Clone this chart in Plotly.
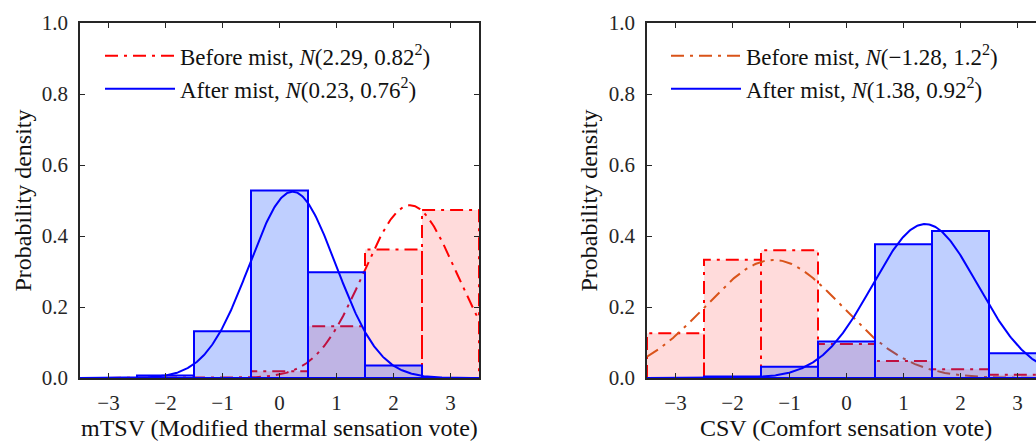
import numpy as np
import plotly.graph_objects as go

# ---------------- data ----------------
bin_centers = [-3, -2, -1, 0, 1, 2, 3]
x_ticks = [-3, -2, -1, 0, 1, 2, 3]
y_ticks = [0.0, 0.2, 0.4, 0.6, 0.8, 1.0]
y_ticktext = ["0.0", "0.2", "0.4", "0.6", "0.8", "1.0"]

# mTSV panel
mtsv_before = [0.0, 0.0, 0.0, 0.019, 0.146, 0.362, 0.473]
mtsv_after = [0.0, 0.007, 0.132, 0.528, 0.298, 0.035, 0.0]
mtsv_before_fit = [2.29, 0.82]   # mean, std
mtsv_after_fit = [0.23, 0.76]

# CSV panel
csv_before = [0.126, 0.333, 0.360, 0.096, 0.048, 0.025, 0.009]
csv_after = [0.0, 0.004, 0.032, 0.103, 0.377, 0.414, 0.070]
csv_before_fit = [-1.28, 1.2]
csv_after_fit = [1.38, 0.92]

labels_mtsv = ["Before mist, <i>N</i>(2.29, 0.82<sup>2</sup>)",
               "After mist, <i>N</i>(0.23, 0.76<sup>2</sup>)"]
labels_csv = ["Before mist, <i>N</i>(\u22121.28, 1.2<sup>2</sup>)",
              "After mist, <i>N</i>(1.38, 0.92<sup>2</sup>)"]

x_titles = ["mTSV (Modified thermal sensation vote)", "CSV (Comfort sensation vote)"]
y_title = "Probability density"

# ---------------- helpers ----------------
FONT = "Liberation Serif"
AX = "#262626"
BIN_W = 1.0


def hist_path(centers, heights):
    xs, ys = [], []
    for c, h in zip(centers, heights):
        l, r = c - BIN_W / 2, c + BIN_W / 2
        xs += [l, l, r, r, l, None]
        ys += [0, h, h, 0, 0, None]
    return xs, ys


def normal_curve(fit, lo=-3.5, hi=3.5, n=400):
    mu, sd = fit
    xs = np.linspace(lo, hi, n)
    ys = np.exp(-0.5 * ((xs - mu) / sd) ** 2) / (sd * np.sqrt(2 * np.pi))
    return xs, ys


fig = go.Figure()

DASHDOT = "13px,6px,3px,6px"

panels = [
    ("x", "y", "legend", mtsv_before, mtsv_after, mtsv_before_fit, mtsv_after_fit, labels_mtsv, "rgb(255,0,0)"),
    ("x2", "y2", "legend2", csv_before, csv_after, csv_before_fit, csv_after_fit, labels_csv, "rgb(217,83,25)"),
]

for xa, ya, leg, before, after, bfit, afit, labels, bcurve_col in panels:
    hx, hy = hist_path(bin_centers, before)
    fig.add_trace(go.Scatter(x=hx, y=hy, xaxis=xa, yaxis=ya, mode="lines", fill="toself",
                             fillcolor="rgba(255,0,0,0.14)",
                             line=dict(color="rgb(255,0,0)", width=2, dash=DASHDOT),
                             showlegend=False, hoverinfo="skip"))
    cx, cy = normal_curve(bfit)
    fig.add_trace(go.Scatter(x=cx, y=cy, xaxis=xa, yaxis=ya, mode="lines",
                             line=dict(color=bcurve_col, width=2, dash=DASHDOT),
                             name=labels[0], legend=leg))
    hx, hy = hist_path(bin_centers, after)
    fig.add_trace(go.Scatter(x=hx, y=hy, xaxis=xa, yaxis=ya, mode="lines", fill="toself",
                             fillcolor="rgba(0,64,255,0.25)",
                             line=dict(color="rgb(0,0,255)", width=2),
                             showlegend=False, hoverinfo="skip"))
    cx, cy = normal_curve(afit)
    fig.add_trace(go.Scatter(x=cx, y=cy, xaxis=xa, yaxis=ya, mode="lines",
                             line=dict(color="rgb(0,0,255)", width=2),
                             name=labels[1], legend=leg))

W, H = 1036, 443
ML, MT, MB = 80, 23, 65
PW = W - ML
PH = H - MT - MB

left_dom = [0, (479 - ML) / PW]
right_dom = [(647 - ML) / PW, 1.0]
px_per_unit = 399 / 7.0
right_hi = -3.5 + (W - 647) / px_per_unit

axis_common = dict(showline=True, linecolor=AX, linewidth=1.5, ticks="inside", ticklen=5,
                   tickwidth=1.2, tickcolor=AX, showgrid=False, zeroline=False,
                   tickfont=dict(family=FONT, size=21, color=AX))

xaxis_common = dict(axis_common, tickvals=x_ticks, ticklabelstandoff=5)
yaxis_common = dict(axis_common, tickvals=y_ticks, ticktext=y_ticktext, range=[0, 1],
                    ticklabelstandoff=6)

legend_common = dict(bgcolor="rgba(0,0,0,0)", borderwidth=0, xanchor="left", yanchor="top",
                     font=dict(family=FONT, size=23, color="#111111"), itemwidth=70,
                     tracegroupgap=0)

fig.update_layout(
    width=W, height=H,
    margin=dict(l=ML, r=0, t=MT, b=MB),
    paper_bgcolor="white", plot_bgcolor="white",
    xaxis=dict(xaxis_common, domain=left_dom, range=[-3.5, 3.5], anchor="y", mirror="ticks"),
    yaxis=dict(yaxis_common, domain=[0, 1], anchor="x", mirror="ticks"),
    xaxis2=dict(xaxis_common, domain=right_dom, range=[-3.5, right_hi], anchor="y2", mirror="ticks"),
    yaxis2=dict(yaxis_common, domain=[0, 1], anchor="x2", mirror=False),
    legend=dict(legend_common, x=(100 - ML) / PW, y=0.968),
    legend2=dict(legend_common, x=(666 - ML) / PW, y=0.968),
    showlegend=True,
)

title_font = dict(family=FONT, size=24, color="#111111")
ann = [
    dict(text=x_titles[0], x=(left_dom[0] + left_dom[1]) / 2, y=(H - MB - 428) / PH,
         xref="paper", yref="paper", showarrow=False, xanchor="center", yanchor="middle", font=title_font),
    dict(text=x_titles[1], x=(846 - ML) / PW, y=(H - MB - 428) / PH,
         xref="paper", yref="paper", showarrow=False, xanchor="center", yanchor="middle", font=title_font),
    dict(text=y_title, x=(22 - ML) / PW, y=0.5, textangle=-90,
         xref="paper", yref="paper", showarrow=False, xanchor="center", yanchor="middle", font=title_font),
    dict(text=y_title, x=(588 - ML) / PW, y=0.5, textangle=-90,
         xref="paper", yref="paper", showarrow=False, xanchor="center", yanchor="middle", font=title_font),
]
fig.update_layout(annotations=ann)

fig.write_html("out.html")
